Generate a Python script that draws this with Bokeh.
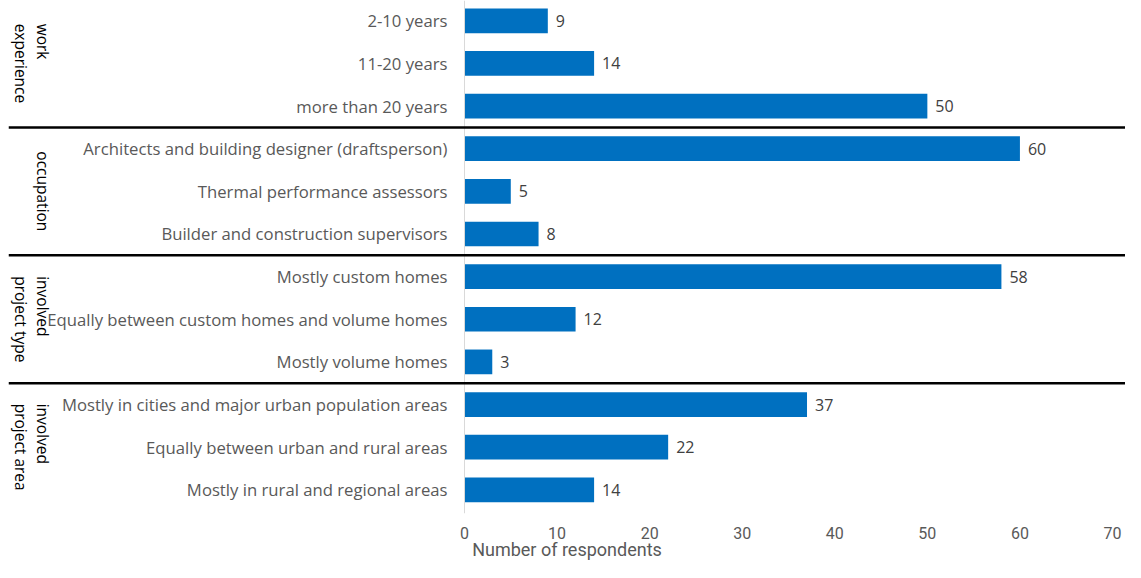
import math
from bokeh.plotting import figure
from bokeh.models import Range1d, FixedTicker, Span, ColumnDataSource
from bokeh.core.properties import value
from bokeh.embed import file_html
from bokeh.resources import INLINE

# ---- data ----
categories = [
    "2-10 years",
    "11-20 years",
    "more than 20 years",
    "Architects and building designer (draftsperson)",
    "Thermal performance assessors",
    "Builder and construction supervisors",
    "Mostly custom homes",
    "Equally between custom homes and volume homes",
    "Mostly volume homes",
    "Mostly in cities and major urban population areas",
    "Equally between urban and rural areas",
    "Mostly in rural and regional areas",
]
counts = [9, 14, 50, 60, 5, 8, 58, 12, 3, 37, 22, 14]
groups = ["work\nexperience", "occupation", "involved\nproject type", "involved\nproject area"]
group_sizes = [3, 3, 3, 3]
x_ticks = [0, 10, 20, 30, 40, 50, 60, 70]
x_title = "Number of respondents"

# ---- layout / style ----
FONT = "Open Sans"
AXFONT = "Roboto"
W, H = 1125, 562
LEFT = 8
FRAME_H = 515
X0_PX, X70_PX = 464, 1112
BAND = 42.8
TOP_PAD = 20.4
BAR_COLOR = "#0070C0"

scale = (X70_PX - X0_PX) / 70.0
x_start = -(X0_PX - LEFT) / scale
x_end = (W - X0_PX) / scale
y_top = -TOP_PAD / BAND
y_bottom = (FRAME_H - TOP_PAD) / BAND

p = figure(width=W, height=H,
           x_range=Range1d(x_start, x_end),
           y_range=Range1d(y_bottom, y_top),
           output_backend="svg", toolbar_location=None,
           y_axis_location=None,
           min_border_left=LEFT, min_border_right=0,
           min_border_top=0, min_border_bottom=H - FRAME_H)
p.outline_line_color = None
p.xgrid.visible = False
p.ygrid.visible = False
p.background_fill_color = "white"

ax = p.xaxis[0]
ax.ticker = FixedTicker(ticks=x_ticks)
ax.axis_line_color = None
ax.major_tick_line_color = None
ax.minor_tick_line_color = None
ax.major_tick_out = 0
ax.major_tick_in = 0
ax.major_label_standoff = 13
ax.major_label_text_font = AXFONT
ax.major_label_text_font_size = "16px"
ax.major_label_text_color = "#595959"
ax.axis_label = x_title
ax.axis_label_standoff = -3
ax.axis_label_text_font = AXFONT
ax.axis_label_text_font_size = "18px"
ax.axis_label_text_font_style = "normal"
ax.axis_label_text_color = "#595959"

ys = list(range(len(categories)))
src = ColumnDataSource(dict(y=ys, cat=categories, count=counts,
                            label=[str(c) for c in counts]))

# vertical axis line at 0
p.add_layout(Span(location=0, dimension="height", line_color="#d9d9d9", line_width=1))

p.hbar(y="y", left=0, right="count", height=0.58, source=src,
       fill_color=BAR_COLOR, line_color=None)

p.text(x=0, y="y", text="cat", source=src, x_offset=-17,
       text_align="right", text_baseline="middle",
       text_font=value(FONT), text_font_size="16.7px", text_color="#595959")

p.text(x="count", y="y", text="label", source=src, x_offset=8,
       text_align="left", text_baseline="middle",
       text_font=value(FONT), text_font_size="16px", text_color="#404040")

# group labels and separators
starts = []
s = 0
for n in group_sizes:
    starts.append(s)
    s += n
centers = [st + (n - 1) / 2 for st, n in zip(starts, group_sizes)]
gsrc = ColumnDataSource(dict(y=centers, text=groups))
p.text(x=0, y="y", text="text", source=gsrc, x_offset=-411,
       angle=-math.pi / 2, anchor=value("top_center"),
       text_align="left", text_baseline="top",
       text_font=value(FONT), text_font_size="15.5px", text_color="black",
       text_line_height=1.0)

for st in starts[1:]:
    p.add_layout(Span(location=st - 0.5, dimension="width",
                      line_color="black", line_width=2.5))

open("out.html", "w").write(file_html(p, INLINE))
